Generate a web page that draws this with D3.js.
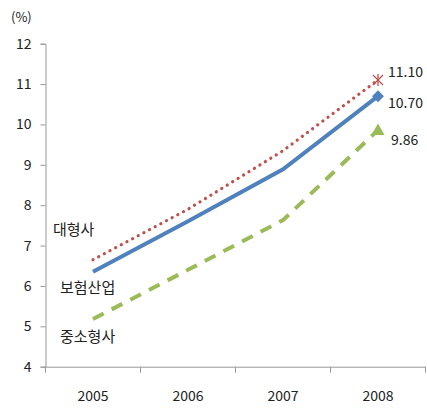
<!DOCTYPE html>
<html><head><meta charset="utf-8">
<script src="https://cdn.jsdelivr.net/npm/d3@7"></script>
<style>
body{margin:0;background:#fff;}
text{font-family:"Noto Sans CJK KR","Noto Sans",sans-serif;fill:#222;}
</style></head>
<body><svg id="c" width="427" height="410"></svg>
<script>
const years = ["2005","2006","2007","2008"];
const large = [6.65, 7.9, 9.35, 11.10];     // 대형사
const industry = [6.35, 7.6, 8.89, 10.70];  // 보험산업
const small = [5.18, 6.4, 7.63, 9.86];      // 중소형사
const yTicks = [4,5,6,7,8,9,10,11,12];
const endLabels = ["11.10","10.70","9.86"];
const seriesNames = ["대형사","보험산업","중소형사"];

const svg = d3.select("#c");
const x = d3.scaleBand().domain(years).range([45.5, 425.5]);
const y = d3.scaleLinear().domain([4,12]).range([366.7, 43.7]);
const cx = d => x(d) + x.bandwidth()/2;

// y axis
const ya = svg.append("g").attr("transform","translate(45.5,0)")
  .call(d3.axisLeft(y).tickValues(yTicks).tickSize(5).tickPadding(9));
ya.select(".domain").attr("stroke","#999");
ya.selectAll(".tick line").attr("stroke","#999");
ya.selectAll(".tick text").style("font-size","14px").attr("fill","#222");

// x axis
const xa = svg.append("g").attr("transform","translate(0,366.7)")
  .call(d3.axisBottom(x).tickSize(0).tickPadding(24));
xa.select(".domain").attr("stroke","#999");
xa.selectAll(".tick text").style("font-size","14px").attr("fill","#222");
const bounds = years.map(d => x(d)).concat([x.range()[1]]);
xa.selectAll(".bt").data(bounds).enter().append("line")
  .attr("x1",d=>d).attr("x2",d=>d).attr("y1",0).attr("y2",6).attr("stroke","#999");

svg.append("text").attr("x",11).attr("y",22).style("font-size","13px").text("(%)");

const line = d3.line().x((d,i)=>cx(years[i])).y(d=>y(d));

svg.append("path").datum(small).attr("d",line).attr("fill","none")
  .attr("stroke","#9BBB59").attr("stroke-width",4).attr("stroke-dasharray","12,9");
svg.append("path").datum(large).attr("d",line).attr("fill","none")
  .attr("stroke","#C0504D").attr("stroke-width",3.2).attr("stroke-linecap","round")
  .attr("stroke-dasharray","0.1,6.3");
svg.append("path").datum(industry).attr("d",line).attr("fill","none")
  .attr("stroke","#4F81BD").attr("stroke-width",4);

// end markers
const lx = cx("2008");
// asterisk for 대형사
const ly = y(large[3]);
const s = 5;
[[-s,-s,s,s],[-s,s,s,-s],[0,-s-1,0,s+1]].forEach(p=>{
  svg.append("line").attr("x1",lx+p[0]).attr("y1",ly+p[1]).attr("x2",lx+p[2]).attr("y2",ly+p[3])
    .attr("stroke","#C0504D").attr("stroke-width",1.3);
});
// diamond for 보험산업
svg.append("path").attr("transform",`translate(${lx},${y(industry[3])})`)
  .attr("d",d3.symbol(d3.symbolDiamond2,90)()).attr("fill","#4F81BD");
// triangle for 중소형사
svg.append("path").attr("transform",`translate(${lx},${y(small[3])+1})`)
  .attr("d",d3.symbol(d3.symbolTriangle,75)()).attr("fill","#9BBB59");

// end value labels
const ends = [large[3], industry[3], small[3]];
const offs = [[10,-8],[10,7],[13,10]];
endLabels.forEach((t,i)=>{
  svg.append("text").attr("x",lx+offs[i][0]).attr("y",y(ends[i])+offs[i][1]+5)
    .style("font-size","14px").text(t);
});

// series labels
const sl = [[53,235],[60,293],[60,342]];
seriesNames.forEach((t,i)=>{
  svg.append("text").attr("x",sl[i][0]).attr("y",sl[i][1]).style("font-size","15px").text(t);
});
</script></body></html>
